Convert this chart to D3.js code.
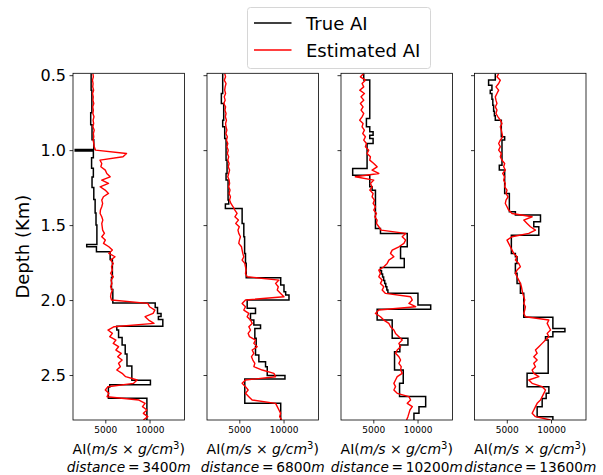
<!DOCTYPE html>
<meta charset="utf-8">
<html>
<head>
<script src="https://d3js.org/d3.v7.min.js"></script>
<style>
  body { margin: 0; background: #fff; }
  text { font-family: "DejaVu Sans", sans-serif; fill: #000; }
</style>
</head>
<body>
<script>
// ---- data ----
const distances = [3400, 6800, 10200, 13600];
const depthTicks = [0.5, 1.0, 1.5, 2.0, 2.5];
const aiTicks = [5000, 10000];

// estimated AI sampled on a regular depth grid (105 samples)
const estDepthStart = 0.4889, estDepthStep = 1 / 45;

const est3400 = [
  3600, 3650, 3550, 3620, 3580, 3680, 3560, 3640, 3600, 3700,
  3580, 3650, 3600, 3720, 3620, 3680, 3600, 3750, 3650, 3700,
  3620, 3700, 3750, 3900, 7400, 7000, 4400, 4600, 4500, 5000,
  5170, 5550, 4600, 5360, 4415, 4980, 5360, 4790, 4600, 4700,
  4600, 4450, 4415, 4600, 4720, 4600, 4650, 4700, 4900, 4600,
  5000, 4800, 5400, 5800, 5400, 6100, 5600, 5900, 5700, 5800,
  5600, 5900, 5650, 5750, 5600, 5800, 5650, 5600, 5700, 9800,
  10000, 10600, 10400, 9500, 9900, 10500, 6000, 5300, 5800, 5500,
  6200, 5900, 6500, 6200, 6800, 6400, 6900, 6500, 6700, 6300,
  6900, 7300, 8600, 8200, 5300, 5000, 5400, 5200, 8800, 9500,
  9200, 9700, 9300, 9800, 9300];
const est6800 = [
  3350, 3450, 3300, 3500, 3400, 3350, 3450, 3300, 3400, 3250,
  3450, 3380, 3500, 3420, 3550, 3450, 3500, 3600, 3480, 3650,
  3550, 3700, 3600, 3750, 3650, 3800, 3700, 3850, 3750, 3900,
  3800, 3700, 3850, 3900, 3800, 3950, 3850, 4000, 3900, 4050,
  4300, 4500, 4750, 4500, 4900, 4600, 5000, 4850, 4940, 5130,
  5015, 4940, 5245, 5320, 5395, 5510, 5320, 5620, 5700, 5773,
  5700, 5886, 9480, 9100, 9405, 9290, 9670, 10047, 5700, 5320,
  5700, 5510, 6075, 5886, 6265, 6454, 6075, 6265, 6000, 6150,
  6832, 6643, 7021, 6454, 6643, 6378, 6530, 6756, 6643, 7589,
  8913, 9100, 5700, 5320, 5700, 6000, 5700, 6075, 6454, 9100,
  9290, 9480, 9670, 9560, 9783];
const est10200 = [
  3920, 3540, 4108, 3730, 3920, 3465, 3996, 3616, 3920, 3540,
  3844, 3616, 3920, 3730, 3465, 3844, 3730, 3996, 3806, 4108,
  3920, 4222, 4108, 4486, 4297, 4675, 4600, 5054, 5432, 4865,
  5621, 2973, 5054, 4675, 4865, 4600, 4978, 4865, 5130, 4978,
  5243, 5054, 5356, 5167, 5432, 5356, 5621, 5886, 8648, 8270,
  8648, 8459, 7891, 7135, 6946, 7324, 6757, 6567, 6189, 5621,
  5810, 5621, 6000, 5810, 6189, 6000, 6378, 9216, 9405, 9026,
  9783, 5621, 5243, 5810, 6189, 6757, 6946, 7324, 7513, 7891,
  8270, 7891, 8080, 7703, 7513, 7891, 8080, 7891, 8156, 8080,
  8270, 7703, 7513, 7324, 7513, 7324, 7703, 9026, 9216, 8837,
  9405, 9140, 9026, 8913, 8760];
const est13600 = [
  4078, 3889, 4267, 4078, 3775, 4078, 3889, 3700, 3775, 3889,
  3700, 3889, 3775, 4002, 4267, 4456, 4267, 4380, 4456, 4532,
  4267, 4078, 4267, 4078, 4380, 4267, 4456, 4759, 4645, 4834,
  4532, 4759, 4645, 4834, 4759, 5024, 4910, 5137, 4910, 4834,
  5024, 5213, 5591, 7861, 6915, 7294, 7672, 8240, 7482, 5591,
  5024, 5213, 5402, 5591, 5780, 6159, 5970, 6348, 6537, 6159,
  5970, 6159, 6348, 6537, 6650, 6726, 6802, 6915, 7029, 6915,
  7104, 7029, 6915, 7104, 9753, 9564, 9753, 9942, 9564, 9753,
  9374, 8996, 8618, 8240, 8429, 8050, 8429, 8050, 8240, 7861,
  8050, 8618, 7482, 7861, 8996, 9374, 9185, 8996, 8807, 8429,
  8240, 8050, 7861, 8240, 9942];

// true AI as layers: top depth of each layer and its value
const trueTop3400 = [0.489, 0.6, 0.75, 0.83, 0.93, 0.995, 1.005, 1.05, 1.12, 1.18, 1.25, 1.33, 1.42, 1.5, 1.63, 1.645, 1.678, 1.73, 1.85, 1.93, 2.02, 2.05, 2.09, 2.11, 2.13, 2.175, 2.2, 2.25, 2.3, 2.36, 2.44, 2.535, 2.565, 2.58, 2.655];
const trueVal3400 = [3400, 3480, 3350, 3500, 3700, 1600, 3650, 3450, 3650, 3500, 3700, 3850, 3950, 4050, 2900, 4000, 5550, 5800, 5700, 5850, 10640, 10900, 11300, 11000, 11500, 6300, 6500, 6900, 7250, 7450, 8000, 10100, 5500, 5350, 9700];
const trueTop6800 = [0.489, 0.622, 0.689, 0.8, 0.844, 0.922, 1.067, 1.156, 1.2, 1.333, 1.36, 1.389, 1.489, 1.578, 1.689, 1.755, 1.851, 1.9, 1.944, 1.966, 2.0, 2.055, 2.089, 2.133, 2.166, 2.189, 2.255, 2.311, 2.366, 2.411, 2.444, 2.504, 2.526, 2.689];
const trueVal6800 = [3124, 2973, 3238, 3124, 3351, 3503, 3616, 3503, 3730, 3805, 3427, 5320, 5510, 5600, 5700, 5780, 9680, 10050, 10240, 10615, 5890, 6830, 6265, 6643, 7400, 6756, 6908, 6832, 7210, 7967, 8156, 10160, 5620, 9680];
const trueTop10200 = [0.489, 0.533, 0.789, 0.844, 0.878, 0.9, 0.922, 0.956, 1.122, 1.167, 1.244, 1.267, 1.522, 1.556, 1.644, 1.722, 1.782, 1.804, 1.826, 1.847, 1.869, 1.89, 1.912, 1.933, 1.955, 2.033, 2.062, 2.133, 2.255, 2.3, 2.344, 2.466, 2.555, 2.644, 2.711, 2.755];
const trueVal10200 = [3920, 4600, 4222, 4600, 4978, 4600, 4978, 4297, 2670, 4600, 4865, 5243, 5810, 8837, 8080, 8500, 5810, 5930, 6050, 6170, 6290, 6410, 6530, 6650, 10047, 11486, 5432, 7135, 8913, 8000, 7400, 8384, 7967, 10918, 10161, 9594];
const trueTop13600 = [0.489, 0.533, 0.567, 0.6, 0.622, 0.66, 0.7, 0.74, 0.77, 0.8, 0.911, 0.933, 1.1, 1.133, 1.289, 1.411, 1.433, 1.478, 1.511, 1.567, 1.689, 1.711, 1.756, 1.822, 1.889, 1.955, 2.115, 2.189, 2.211, 2.244, 2.267, 2.489, 2.578, 2.622, 2.656, 2.711, 2.778];
const trueVal13600 = [3700, 2943, 3321, 3132, 3321, 3420, 3510, 3600, 3700, 4380, 4759, 4456, 4153, 4759, 5288, 5970, 8807, 8050, 8618, 5515, 5970, 6159, 5970, 6159, 6537, 6915, 10207, 11568, 10207, 9374, 9677, 7294, 9753, 9450, 8996, 8429, 10207];

const panels = [
  {dist: distances[0], est: est3400, tops: trueTop3400, vals: trueVal3400},
  {dist: distances[1], est: est6800, tops: trueTop6800, vals: trueVal6800},
  {dist: distances[2], est: est10200, tops: trueTop10200, vals: trueVal10200},
  {dist: distances[3], est: est13600, tops: trueTop13600, vals: trueVal13600}
];

// ---- layout ----
const W = 603, H = 475;
const panelLeft = [73, 207, 341, 474.5], panelW = 111.5;
const plotTop = 73.3, plotBottom = 420;
const depthMax = 2.8;

const svg = d3.select("body").append("svg")
  .attr("width", W).attr("height", H);

const y = d3.scaleLinear().domain([0.4875, depthMax]).range([plotTop, plotBottom]);

panels.forEach(function(p, k) {
  const x0 = panelLeft[k];
  const x = d3.scaleLinear().domain([1350, 13950]).range([x0, x0 + panelW]);
  const g = svg.append("g");

  g.append("clipPath").attr("id", "clip" + k)
    .append("rect").attr("x", x0).attr("y", plotTop)
    .attr("width", panelW).attr("height", plotBottom - plotTop);

  // true AI (blocky)
  const truePts = p.tops.map((d, i) => [p.vals[i], d]);
  truePts.push([p.vals[p.vals.length - 1], depthMax]);
  g.append("path")
    .attr("clip-path", "url(#clip" + k + ")")
    .attr("fill", "none").attr("stroke", "#000").attr("stroke-width", 1.5)
    .attr("d", d3.line().x(d => x(d[0])).y(d => y(d[1])).curve(d3.curveStepBefore)(truePts));

  // estimated AI
  const estPts = p.est.map((v, i) => [v, estDepthStart + i * estDepthStep]);
  g.append("path")
    .attr("clip-path", "url(#clip" + k + ")")
    .attr("fill", "none").attr("stroke", "#ff0000").attr("stroke-width", 1.4)
    .attr("stroke-linejoin", "round")
    .attr("d", d3.line().x(d => x(d[0])).y(d => y(d[1]))(estPts));

  // axes
  const yAx = g.append("g").attr("transform", `translate(${x0},0)`)
    .call(d3.axisLeft(y).tickValues(depthTicks).tickSize(3.5).tickPadding(3.5)
      .tickFormat(k === 0 ? d3.format(".1f") : ""));
  yAx.select(".domain").remove();
  yAx.selectAll("line").attr("stroke", "#000").attr("stroke-width", 0.8);
  yAx.selectAll("text").style("font-size", "16px").style("font-family", "DejaVu Sans");

  const xAx = g.append("g").attr("transform", `translate(0,${plotBottom})`)
    .call(d3.axisBottom(x).tickValues(aiTicks).tickSize(3.5).tickPadding(3.5)
      .tickFormat(d3.format("d")));
  xAx.select(".domain").remove();
  xAx.selectAll("line").attr("stroke", "#000").attr("stroke-width", 0.8);
  xAx.selectAll("text").style("font-size", "9px").style("font-family", "DejaVu Sans");

  g.append("rect").attr("x", x0).attr("y", plotTop)
    .attr("width", panelW).attr("height", plotBottom - plotTop)
    .attr("fill", "none").attr("stroke", "#000").attr("stroke-width", 0.8);

  // x label
  const cx = x0 + panelW / 2;
  const l1 = g.append("text").attr("x", cx).attr("y", 454)
    .attr("text-anchor", "middle").style("font-size", "14px");
  l1.append("tspan").text("AI(");
  l1.append("tspan").style("font-style", "italic").text("m/s");
  l1.append("tspan").text(" \u00d7 ");
  l1.append("tspan").style("font-style", "italic").text("g/cm");
  l1.append("tspan").attr("dy", -5).style("font-size", "10px").text("3");
  l1.append("tspan").attr("dy", 5).text(")");

  const l2 = g.append("text").attr("x", cx).attr("y", 472)
    .attr("text-anchor", "middle").style("font-size", "14px")
    .attr("textLength", p.dist >= 10000 ? 132 : 124).attr("lengthAdjust", "spacingAndGlyphs");
  l2.append("tspan").style("font-style", "italic").text("distance");
  l2.append("tspan").text("\u2009=\u2009" + p.dist);
  l2.append("tspan").style("font-style", "italic").text("m");
});

// y label
svg.append("text")
  .attr("transform", `translate(29,${(plotTop + plotBottom) / 2}) rotate(-90)`)
  .attr("text-anchor", "middle").style("font-size", "18px")
  .text("Depth (Km)");

// legend
const leg = svg.append("g");
leg.append("rect").attr("x", 247.5).attr("y", 7.5).attr("width", 183).attr("height", 61)
  .attr("rx", 3).attr("fill", "#fff").attr("stroke", "#d6d6d6");
[["True AI", "#000"], ["Estimated AI", "#ff0000"]].forEach(function(e, i) {
  const ly = 23 + i * 27;
  leg.append("line").attr("x1", 254).attr("x2", 291.5).attr("y1", ly).attr("y2", ly)
    .attr("stroke", e[1]).attr("stroke-width", 1.5);
  leg.append("text").attr("x", 306).attr("y", ly + 6.5).style("font-size", "18px").text(e[0]);
});
</script>
</body>
</html>
